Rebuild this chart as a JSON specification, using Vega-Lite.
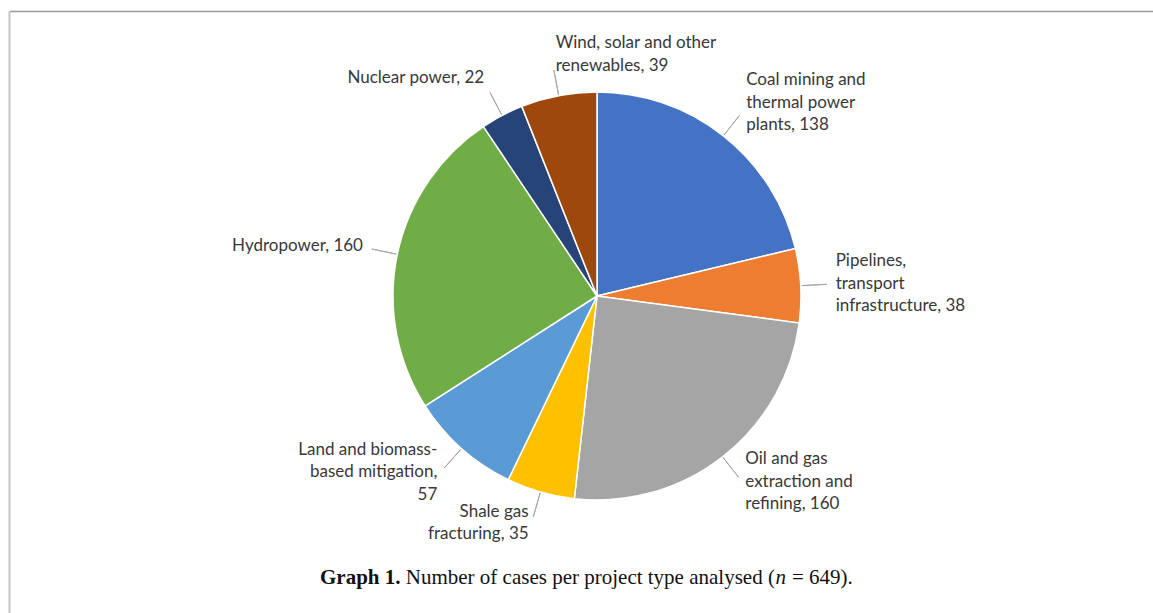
{
  "$schema": "https://vega.github.io/schema/vega-lite/v6.json",
  "width": 1144,
  "height": 602,
  "autosize": "none",
  "padding": {"left": 9, "top": 11, "right": 0, "bottom": 0},
  "background": "white",
  "config": {"view": {"stroke": null}},
  "data": {
    "values": [
      {"type": "Coal mining and thermal power plants", "label": "Coal mining and\nthermal power\nplants, 138", "count": 138},
      {"type": "Pipelines, transport infrastructure", "label": "Pipelines,\ntransport\ninfrastructure, 38", "count": 38},
      {"type": "Oil and gas extraction and refining", "label": "Oil and gas\nextraction and\nrefining, 160", "count": 160},
      {"type": "Shale gas fracturing", "label": "Shale gas\nfracturing, 35", "count": 35},
      {"type": "Land and biomass-based mitigation", "label": "Land and biomass-\nbased mitigation,\n57", "count": 57},
      {"type": "Hydropower", "label": "Hydropower, 160", "count": 160},
      {"type": "Nuclear power", "label": "Nuclear power, 22", "count": 22},
      {"type": "Wind, solar and other renewables", "label": "Wind, solar and other\nrenewables, 39", "count": 39}
    ]
  },
  "transform": [
    {"stack": "count", "groupby": [], "as": ["start", "end"]},
    {"calculate": "(datum.start + datum.end) / 2", "as": "mid"},
    {"calculate": "length(split(datum.label, '\\n'))", "as": "lines"}
  ],
  "encoding": {
    "x": {
      "datum": 0,
      "type": "quantitative",
      "scale": {"domain": [-588, 556], "nice": false, "zero": false},
      "axis": {"orient": "top", "domain": true, "domainColor": "#9a9a9a", "domainWidth": 1.5, "ticks": false, "labels": false, "grid": false, "title": null}
    },
    "y": {
      "datum": 0,
      "type": "quantitative",
      "scale": {"domain": [-317, 285], "nice": false, "zero": false},
      "axis": {"orient": "left", "domain": true, "domainColor": "#c6c6c6", "domainWidth": 2, "ticks": false, "labels": false, "grid": false, "title": null}
    }
  },
  "layer": [
    {
      "mark": {"type": "arc", "radius": 204, "stroke": "white", "strokeWidth": 1.5},
      "encoding": {
        "theta": {"field": "start", "type": "quantitative", "stack": null, "scale": {"domain": [0, 649], "range": [0, 6.283185307]}},
        "theta2": {"field": "end"},
        "color": {
          "field": "type",
          "type": "nominal",
          "legend": null,
          "scale": {
            "domain": ["Coal mining and thermal power plants", "Pipelines, transport infrastructure", "Oil and gas extraction and refining", "Shale gas fracturing", "Land and biomass-based mitigation", "Hydropower", "Nuclear power", "Wind, solar and other renewables"],
            "range": ["#4472C4", "#ED7D31", "#A5A5A5", "#FFC000", "#5B9BD5", "#70AD47", "#264478", "#9E480E"]
          }
        }
      }
    },
    {
      "mark": {"type": "arc", "radius": 230, "radius2": 205, "fillOpacity": 0, "stroke": "#a6a6a6", "strokeWidth": 1},
      "encoding": {
        "theta": {"field": "mid", "type": "quantitative", "stack": null},
        "theta2": {"field": "mid"}
      }
    },
    {
      "mark": {
        "type": "text",
        "radius": 236,
        "align": {"expr": "datum.mid < 324.5 || datum.mid > 617 ? 'left' : 'right'"},
        "dx": {"expr": "datum.mid < 324.5 || datum.mid > 617 ? 3 : -3"},
        "dy": {"expr": "-(datum.lines - 1) * 11.25 - 10 * max(cos(datum.mid / 649 * 2 * PI), 0)"},
        "baseline": "middle",
        "font": "Lato",
        "fontSize": 17,
        "lineBreak": "\n",
        "lineHeight": 22.5,
        "fill": "#383838"
      },
      "encoding": {
        "theta": {"field": "mid", "type": "quantitative", "stack": null},
        "text": {"field": "label"}
      }
    },
    {
      "data": {"values": [{"part": "Graph 1."}]},
      "mark": {"type": "text", "align": "left", "baseline": "alphabetic", "font": "Liberation Serif", "fontSize": 21, "fontWeight": "bold", "fill": "#111111"},
      "encoding": {"x": {"datum": -277}, "y": {"datum": -288}, "text": {"field": "part"}}
    },
    {
      "data": {"values": [{"part": "Number of cases per project type analysed ("}]},
      "mark": {"type": "text", "align": "left", "baseline": "alphabetic", "font": "Liberation Serif", "fontSize": 21, "fill": "#111111"},
      "encoding": {"x": {"datum": -191.2}, "y": {"datum": -288}, "text": {"field": "part"}}
    },
    {
      "data": {"values": [{"part": "n"}]},
      "mark": {"type": "text", "align": "left", "baseline": "alphabetic", "font": "Liberation Serif", "fontSize": 21, "fontStyle": "italic", "fill": "#111111"},
      "encoding": {"x": {"datum": 178.5}, "y": {"datum": -288}, "text": {"field": "part"}}
    },
    {
      "data": {"values": [{"part": "= 649)."}]},
      "mark": {"type": "text", "align": "left", "baseline": "alphabetic", "font": "Liberation Serif", "fontSize": 21, "fill": "#111111"},
      "encoding": {"x": {"datum": 195}, "y": {"datum": -288}, "text": {"field": "part"}}
    }
  ]
}
